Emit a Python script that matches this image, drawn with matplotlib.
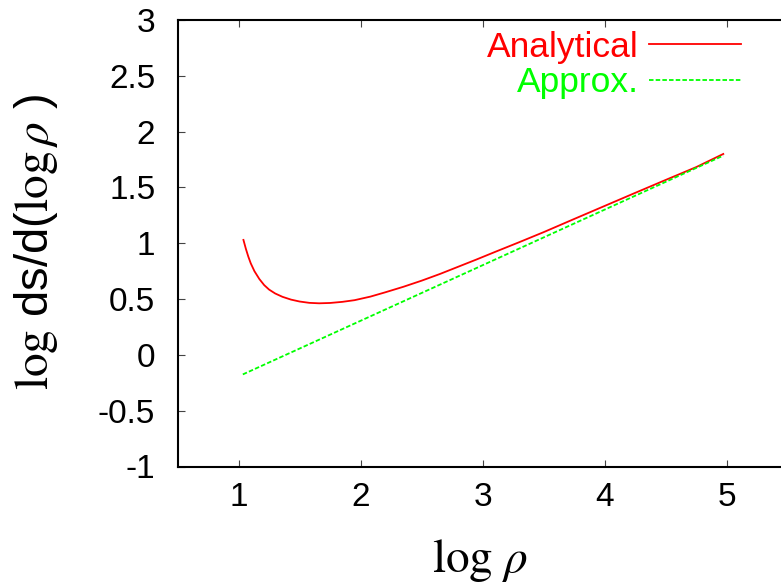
import matplotlib
matplotlib.use("Agg")
import matplotlib.pyplot as plt

plt.rcParams['font.family'] = ['Liberation Sans', 'DejaVu Sans']
plt.rcParams['mathtext.fontset'] = 'stix'

# Data
analytical_x = [1.04, 1.06, 1.08, 1.10, 1.13, 1.17, 1.21, 1.25, 1.30, 1.36, 1.43, 1.50,
                1.58, 1.66, 1.75, 1.85, 1.95, 2.08, 2.20, 2.35, 2.50, 2.65, 2.80, 2.95,
                3.10, 3.30, 3.50, 3.75, 4.00, 4.25, 4.50, 4.75, 4.97]
analytical_y = [1.03, 0.95, 0.88, 0.82, 0.75, 0.68, 0.625, 0.585, 0.55, 0.52, 0.495, 0.478,
                0.466, 0.462, 0.465, 0.475, 0.49, 0.522, 0.56, 0.61, 0.665, 0.725, 0.79, 0.855,
                0.922, 1.01, 1.10, 1.218, 1.335, 1.452, 1.568, 1.683, 1.80]
approx_x = [1.035, 4.97]
approx_y = [-0.175, 1.785]

xticks = [1, 2, 3, 4, 5]
yticks = [-1, -0.5, 0, 0.5, 1, 1.5, 2, 2.5, 3]
ytick_labels = ['-1', '-0.5', '0', '0.5', '1', '1.5', '2', '2.5', '3']

W, H = 781, 584
fig = plt.figure(figsize=(W / 100, H / 100), dpi=100)
ax = fig.add_axes([177.5 / W, (H - 466.5) / H, 610.5 / W, 446.5 / H])

ax.plot(analytical_x, analytical_y, color='#ff0000', lw=1.3, label='Analytical')
ax.plot(approx_x, approx_y, color='#00ff00', lw=1.3, dashes=(2.5, 1.2), label='Approx.')

ax.set_xlim(0.5, 5.5)
ax.set_ylim(-1, 3)
ax.set_xticks(xticks)
ax.set_xticklabels([str(t) for t in xticks])
ax.set_yticks(yticks)
ax.set_yticklabels(ytick_labels)
ax.tick_params(direction='in', length=5, width=0.8, color='#444444',
               top=True, right=True, labelsize=24)
ax.tick_params(axis='x', pad=11)
ax.tick_params(axis='y', pad=16)
for s in ax.spines.values():
    s.set_linewidth(1.5)

leg = ax.legend(loc='upper right', bbox_to_anchor=((745 - 177.5) / 610.5, 0.984),
                frameon=False, fontsize=25.5, markerfirst=False, labelcolor='linecolor',
                handlelength=2.6, handletextpad=0.3, labelspacing=0.07,
                borderpad=0.0, borderaxespad=0.1)

fig.text(480 / W, 1 - 572 / H, r'$\mathrm{log}\ \rho$', fontsize=34,
         ha='center', va='baseline')
fig.text(48 / W, 1 - 242 / H, r'$\mathrm{log}$ ds/d($\mathrm{log}\,\rho$ )', fontsize=34,
         rotation=90, rotation_mode='anchor', ha='center', va='baseline')

fig.savefig('out.png', dpi=100)
